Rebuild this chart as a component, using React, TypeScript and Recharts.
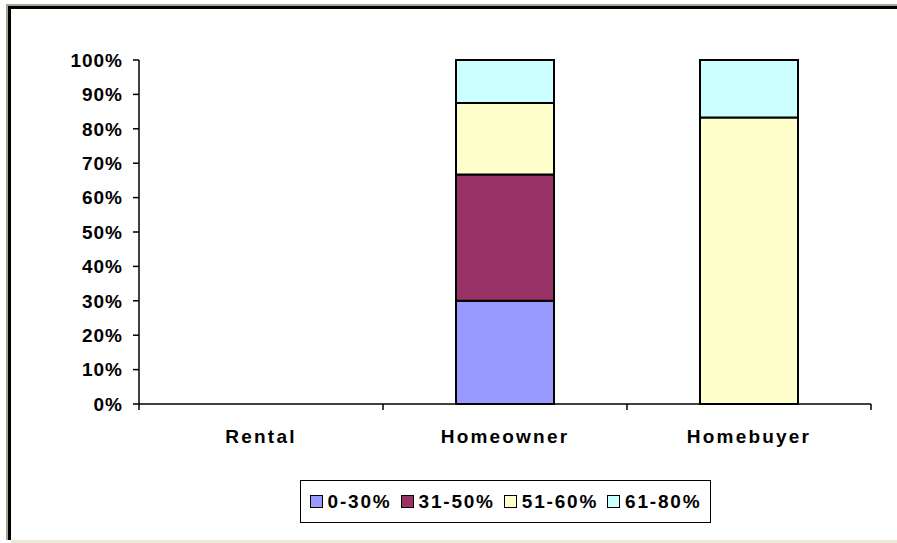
import { BarChart, Bar, XAxis, YAxis, Legend } from "recharts";

const categories = ["Rental", "Homeowner", "Homebuyer"];
const seriesNames = ["0-30%", "31-50%", "51-60%", "61-80%"];
const band0to30 = [0, 0.3, 0];
const band31to50 = [0, 0.367, 0];
const band51to60 = [0, 0.208, 0.833];
const band61to80 = [0, 0.125, 0.167];
const yTicks = [0, 0.1, 0.2, 0.3, 0.4, 0.5, 0.6, 0.7, 0.8, 0.9, 1];

const colors = ["#9999ff", "#993366", "#ffffcc", "#ccffff"];
const keys = ["a", "b", "c", "d"];

const data = categories.map((name, i) => ({
  name,
  a: band0to30[i],
  b: band31to50[i],
  c: band51to60[i],
  d: band61to80[i],
}));

const font = "'Liberation Sans', Arial, sans-serif";

const CategoryTick = (props: any) => {
  const { x, y, payload, index } = props;
  const half = payload && payload.offset ? payload.offset : 122;
  return (
    <g>
      {index === 0 && (
        <line x1={x - half} x2={x - half} y1={y} y2={y + 6} stroke="#000" strokeWidth={1.5} />
      )}
      <line x1={x + half} x2={x + half} y1={y} y2={y + 6} stroke="#000" strokeWidth={1.5} />
      <text
        x={x}
        y={y + 39}
        textAnchor="middle"
        fontFamily={font}
        fontWeight="bold"
        fontSize={19}
        letterSpacing={2.2}
        fill="#000"
      >
        {payload.value}
      </text>
    </g>
  );
};

const LegendBox = () => (
  <div
    style={{
      boxSizing: "border-box",
      width: 411,
      height: 43,
      border: "1.5px solid #000",
      background: "#fff",
      display: "flex",
      alignItems: "center",
      justifyContent: "center",
      fontFamily: font,
      fontWeight: "bold",
      fontSize: 19,
      letterSpacing: 1.8,
      color: "#000",
    }}
  >
    {seriesNames.map((s, i) => (
      <div key={s} style={{ display: "flex", alignItems: "center", marginRight: i < 3 ? 9 : 0 }}>
        <span
          style={{
            display: "inline-block",
            boxSizing: "border-box",
            width: 13,
            height: 13,
            border: "1.5px solid #000",
            background: colors[i],
            marginRight: 5,
          }}
        />
        <span>{s}</span>
      </div>
    ))}
  </div>
);

export default function App() {
  return (
    <div
      style={{
        position: "fixed",
        left: 0,
        top: 0,
        width: 897,
        height: 543,
        background: "#fff",
        overflow: "hidden",
      }}
    >
      <div
        style={{
          position: "absolute",
          left: 6,
          top: 4,
          right: -10,
          bottom: 3,
          borderTop: "2px solid #a8a597",
          borderLeft: "2px solid #a8a597",
        }}
      >
        <div
          style={{
            position: "absolute",
            left: 0,
            top: 0,
            right: 0,
            bottom: 0,
            borderTop: "3px solid #000",
            borderLeft: "3px solid #000",
          }}
        />
      </div>
      <div
        style={{
          position: "absolute",
          left: 11,
          top: 540,
          width: 886,
          height: 3,
          background: "#ece9d8",
        }}
      />
      <div style={{ position: "absolute", left: 0, top: 0 }}>
        <BarChart
          width={897}
          height={543}
          data={data}
          barSize={98}
          margin={{ top: 60, right: 26, left: 0, bottom: 56 }}
        >
          <XAxis
            dataKey="name"
            axisLine={{ stroke: "#000", strokeWidth: 1.5 }}
            tickLine={false}
            tickSize={0}
            tickMargin={0}
            height={40}
            interval={0}
            tick={<CategoryTick />}
          />
          <YAxis
            width={139}
            domain={[0, 1]}
            ticks={yTicks}
            interval={0}
            tickFormatter={(v: number) => `${Math.round(v * 100)}%`}
            axisLine={{ stroke: "#000", strokeWidth: 1.5 }}
            tickLine={{ stroke: "#000", strokeWidth: 1.5 }}
            tickSize={6}
            tickMargin={10}
            tick={{
              fill: "#000",
              fontFamily: font,
              fontWeight: "bold",
              fontSize: 19,
              letterSpacing: 1,
            }}
          />
          <Legend
            content={<LegendBox />}
            verticalAlign="bottom"
            wrapperStyle={{ position: "absolute", left: 300, top: 480, width: 411, height: 43 }}
          />
          {keys.map((k, i) => (
            <Bar
              key={k}
              dataKey={k}
              name={seriesNames[i]}
              stackId="s"
              fill={colors[i]}
              stroke="#000"
              strokeWidth={2}
              isAnimationActive={false}
            />
          ))}
        </BarChart>
      </div>
    </div>
  );
}
